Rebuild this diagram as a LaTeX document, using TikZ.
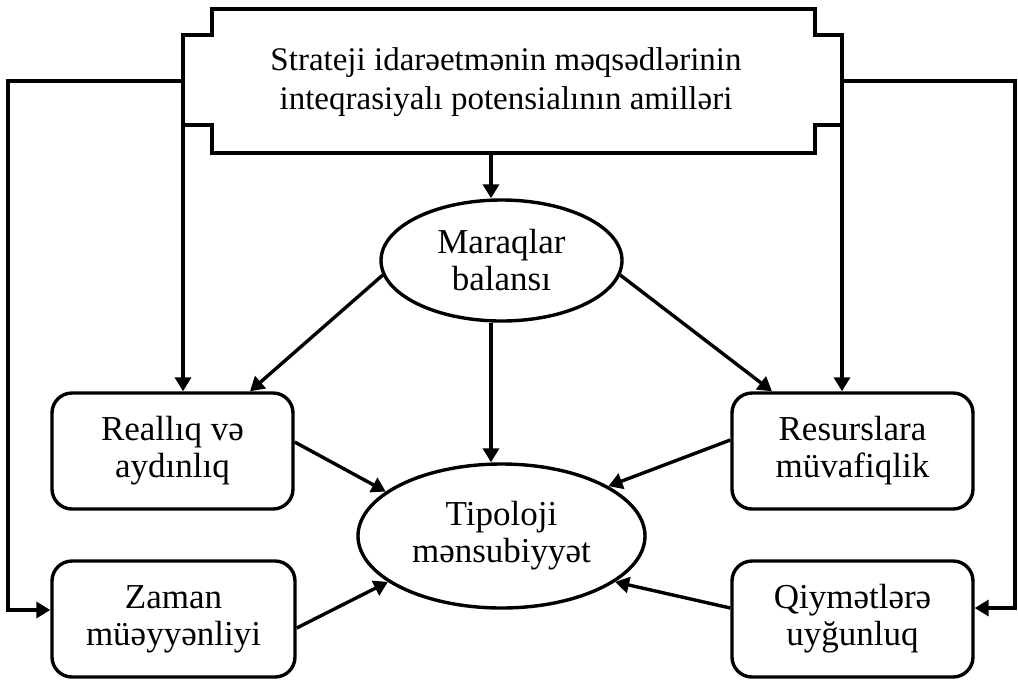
\documentclass[tikz,border=0pt]{standalone}
\usepackage{fontspec}
\setmainfont{Liberation Serif}
\usetikzlibrary{shapes.geometric,arrows.meta,calc}

\begin{document}
\begin{tikzpicture}[x=0.5pt,y=-0.5pt,
  line width=1.7pt,
  arr/.style={-{Triangle[length=7pt,width=8pt]}},
  lbl/.style={font=\fontsize{17.5}{18.5}\selectfont,align=center},
  rbox/.style={lbl,draw,rounded corners=10pt,minimum width=120.5pt,minimum height=58pt,inner sep=0pt},
  oval/.style={lbl,draw,ellipse,inner sep=0pt}
]
\useasboundingbox (0,0) rectangle (1018,682);

% title frame with stepped side wings
\draw (212,9) -- (815,9) -- (815,35) -- (842,35) -- (842,125) -- (815,125)
  -- (815,153) -- (212,153) -- (212,125) -- (183,125) -- (183,35) -- (212,35) -- cycle;
\node[align=center,font=\fontsize{16.5}{19.5}\selectfont] (goal) at (506,82)
  {Strateji idarəetmənin məqsədlərinin\\inteqrasiyalı potensialının amilləri};

\coordinate (wl) at (183,81);
\coordinate (wr) at (842,81);
\coordinate (wlb) at (183,125);
\coordinate (wrb) at (842,125);
\coordinate (gb) at (491,153);
\coordinate (ol) at (8,81);
\coordinate (or) at (1015,81);

% factor nodes
\node[oval,minimum width=120.5pt,minimum height=60.5pt] (mar) at (501.5,260.5) {Maraqlar\\balansı};
\node[oval,minimum width=143.5pt,minimum height=72pt] (tip) at (501.5,536) {Tipoloji\\mənsubiyyət};
\node[rbox] (real) at (172.5,451) {Reallıq və\\aydınlıq};
\node[rbox] (res) at (852.5,451) {Resurslara\\müvafiqlik};
\node[rbox,minimum width=121.5pt] (zam) at (173.5,619) {Zaman\\müəyyənliyi};
\node[rbox] (qiy) at (852.5,619) {Qiymətlərə\\uyğunluq};

% links from the title frame
\draw[arr] (gb) -- (mar.north -| gb);
\draw[arr] (wlb) -- (real.north -| wlb);
\draw[arr] (wrb) -- (res.north -| wrb);
\draw[arr] (wl) -- (ol) |- ([yshift=4.5pt]zam.west);
\draw[arr] (wr) -- (or) |- ([yshift=5.5pt]qiy.east);

% links between factors
\draw[arr] (mar.187) -- ([xshift=38.75pt]real.north);
\draw[arr] (mar.353) -- ([xshift=-40.25pt]res.north);
\draw[arr] (mar.south -| gb) -- (tip.north -| gb);
\draw[arr] ([yshift=4.5pt]real.east) -- (tip.159);
\draw[arr] ([yshift=5.5pt]res.west) -- (tip.25);
\draw[arr] ([yshift=-4.5pt]zam.east) -- (tip.202);
\draw[arr] ([yshift=5.5pt]qiy.west) -- (tip.338);
\end{tikzpicture}
\end{document}
